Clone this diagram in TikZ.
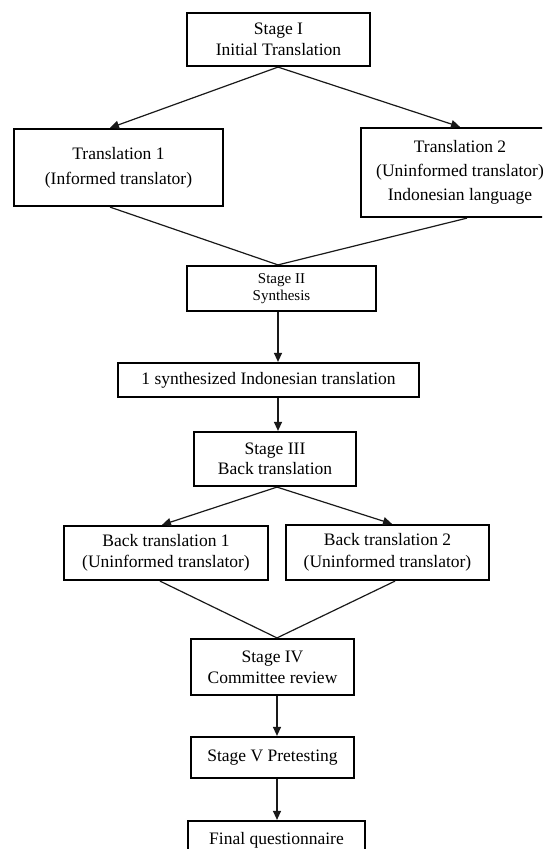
\documentclass[tikz,border=0pt]{standalone}
\usepackage{fontspec}
\setmainfont{Liberation Serif}
\usetikzlibrary{arrows.meta,calc}
\begin{document}
\begin{tikzpicture}[x=1pt,y=-1pt,
  box/.style={draw=black,line width=2.2pt,rectangle,inner sep=0pt,align=center,
    font=\fontsize{17.5}{21.5}\selectfont},
  conn/.style={line width=1.2pt,draw=black!90},
  arr/.style={conn,-{Triangle[length=9pt,width=8pt]}}]
\useasboundingbox (0,0) rectangle (542,849);
\clip (0,0) rectangle (542,849);
\fill[white] (0,0) rectangle (542,849);
\node[box,minimum width=183pt,minimum height=53pt] (s1) at (278.5,39.5) {Stage I\\Initial Translation};
\node[box,minimum width=209pt,minimum height=77pt,font=\fontsize{17.5}{25}\selectfont] (t1) at (118.5,167.5) {Translation 1\\(Informed translator)};
\node[box,minimum width=198pt,minimum height=89pt,font=\fontsize{17.5}{24}\selectfont] (t2) at (460,172.5) {Translation 2\\(Uninformed translator)\\Indonesian language};
\node[box,minimum width=189pt,minimum height=45pt,font=\fontsize{15}{17.5}\selectfont] (s2) at (281.5,288.5) {Stage II\\Synthesis};
\node[box,minimum width=301pt,minimum height=34pt] (syn) at (268.5,380) {1 synthesized Indonesian translation};
\node[box,minimum width=162pt,minimum height=54pt,font=\fontsize{17.5}{20.5}\selectfont] (s3) at (275,459) {Stage III\\Back translation};
\node[box,minimum width=204pt,minimum height=54pt] (bt1) at (166,553) {Back translation 1\\(Uninformed translator)};
\node[box,minimum width=203pt,minimum height=55pt] (bt2) at (387.5,552.5) {Back translation 2\\(Uninformed translator)};
\node[box,minimum width=163pt,minimum height=56pt,font=\fontsize{17.5}{21}\selectfont] (s4) at (272.5,667) {Stage IV\\Committee review};
\node[box,minimum width=163pt,minimum height=41pt] (s5) at (272.5,757.5) {Stage V Pretesting};
\node[box,minimum width=177pt,minimum height=38pt] (fin) at (276.5,840) {Final questionnaire};
\coordinate (c1) at (278,0);
\coordinate (c2) at (277,0);
\draw[arr] ([xshift=-0.5pt]s1.south) -- ([xshift=-8.5pt]t1.north);
\draw[arr] ([xshift=-0.5pt]s1.south) -- (t2.north);
\draw[conn] ([xshift=-8.5pt]t1.south) -- ([xshift=-3.5pt]s2.north);
\draw[conn] ([xshift=7pt]t2.south) -- ([xshift=-3.5pt]s2.north);
\draw[arr] (s2.south -| c1) -- (syn.north -| c1);
\draw[arr] (syn.south -| c1) -- (s3.north -| c1);
\draw[arr] ([xshift=2pt]s3.south) -- ([xshift=-4pt]bt1.north);
\draw[arr] ([xshift=2pt]s3.south) -- ([xshift=4.5pt]bt2.north);
\draw[conn] ([xshift=-6pt]bt1.south) -- ([xshift=4.5pt]s4.north);
\draw[conn] ([xshift=7.5pt]bt2.south) -- ([xshift=4.5pt]s4.north);
\draw[arr] (s4.south -| c2) -- (s5.north -| c2);
\draw[arr] (s5.south -| c2) -- (fin.north -| c2);
\end{tikzpicture}
\end{document}
